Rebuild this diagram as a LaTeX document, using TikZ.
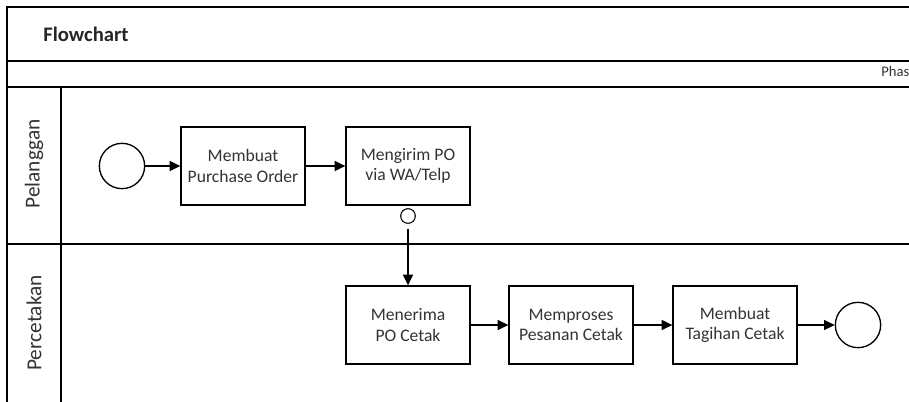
\documentclass[tikz,border=0pt]{standalone}
\usepackage{fontspec}
\setmainfont{Carlito}
\usetikzlibrary{arrows.meta}

\tikzset{
    task/.style={draw, line width=1pt, minimum width=93pt, minimum height=58.5pt,
        align=center, text=black!80, font=\fontsize{13.2}{15.5}\selectfont},
    event/.style={draw, circle, line width=1pt, minimum size=34pt, inner sep=0pt},
    msgdot/.style={draw, circle, line width=0.8pt, minimum size=11pt, inner sep=0pt},
    flow/.style={line width=0.9pt, -{Triangle[length=8pt,width=7.5pt]}},
    lanename/.style={rotate=90, text=black!80, font=\fontsize{16}{18}\selectfont}
}

\begin{document}
\begin{tikzpicture}[x=0.75pt, y=-0.75pt]
    \useasboundingbox (0,0) rectangle (909,401);
    \clip (0,0) rectangle (909,401);

    % Pool frame, title row and phase row
    \draw[line width=1.5pt] (7,420) -- (7,7) -- (940,7);
    \draw[line width=1.5pt] (7,61) -- (940,61);
    \draw[line width=1.5pt] (7,87) -- (940,87);
    \draw[line width=1.2pt] (7,244) -- (940,244);
    \draw[line width=1pt] (61,87) -- (61,420);
    \node[anchor=west, inner sep=0pt, text=black!85, font=\bfseries\fontsize{15.5}{18}\selectfont] (judul) at (43,34) {Flowchart};
    \node[anchor=base west, inner sep=0pt, text=black!80, font=\fontsize{11}{12}\selectfont] (fase) at (881,76) {Phase};

    % Lanes
    \node[lanename] (pelanggan) at (34,164) {Pelanggan};
    \node[lanename] (percetakan) at (34,323) {Percetakan};

    % Lane Pelanggan
    \node[event] (start) at (122,166) {};
    \node[task] (pobuat) at (243,166) {Membuat\\Purchase Order};
    \node[task] (pokirim) at (408,166) {Mengirim PO\\via WA/Telp};
    \node[msgdot] (msg) at (408,216) {};

    % Lane Percetakan
    \node[task] (poterima) at (408,325) {Menerima\\PO Cetak};
    \node[task] (proses) at (571,325) {Memproses\\Pesanan Cetak};
    \node[task] (tagihan) at (735,325) {Membuat\\Tagihan Cetak};
    \node[event] (selesai) at (858,325) {};

    % Flows
    \draw[flow] (start) -- (pobuat);
    \draw[flow] (pobuat) -- (pokirim);
    \draw[flow, shorten <=3.5pt] (msg) -- (poterima);
    \draw[flow] (poterima) -- (proses);
    \draw[flow] (proses) -- (tagihan);
    \draw[flow] (tagihan) -- (selesai);
\end{tikzpicture}
\end{document}
